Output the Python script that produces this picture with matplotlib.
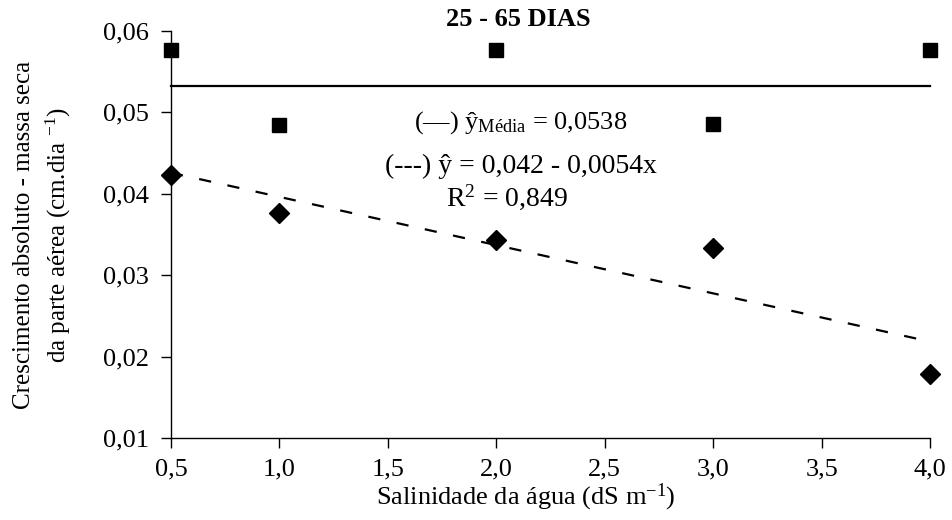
import numpy as np
import matplotlib
matplotlib.use("Agg")
import matplotlib.pyplot as plt

plt.rcParams['font.family'] = ['Liberation Serif', 'DejaVu Serif']
plt.rcParams['mathtext.fontset'] = 'custom'
plt.rcParams['mathtext.rm'] = 'Liberation Serif'
plt.rcParams['mathtext.it'] = 'Liberation Serif:italic'
plt.rcParams['mathtext.bf'] = 'Liberation Serif:bold'

# Data
salinity = [0.5, 1.0, 2.0, 3.0, 4.0]
squares = [0.0577, 0.0485, 0.0577, 0.0486, 0.0577]
diamonds = [0.0423, 0.0377, 0.0343, 0.0333, 0.0179]
mean_line = 0.0532
xticks = [0.5, 1.0, 1.5, 2.0, 2.5, 3.0, 3.5, 4.0]
xtick_labels = ['0,5', '1,0', '1,5', '2,0', '2,5', '3,0', '3,5', '4,0']
yticks = [0.01, 0.02, 0.03, 0.04, 0.05, 0.06]
ytick_labels = ['0,01', '0,02', '0,03', '0,04', '0,05', '0,06']

fig = plt.figure(figsize=(9.52, 5.2), dpi=100)
ax = fig.add_axes([0.1796, 0.1577, 0.977 - 0.1796, 0.9404 - 0.1577])

# regression line fitted to diamonds
coef = np.polyfit(salinity, diamonds, 1)
xs = np.array([salinity[0], salinity[-1]])
line, = ax.plot(xs, np.polyval(coef, xs), color='black', lw=1.6, clip_on=False)
line.set_dashes([5.5, 7.5])
ax.plot(xs, [mean_line, mean_line], color='black', lw=1.6, clip_on=False)

ax.plot(salinity, squares, linestyle='none', marker='s', ms=10.5, color='black', clip_on=False, zorder=5)
ax.plot(salinity, diamonds, linestyle='none', marker='D', ms=9.8, color='black', clip_on=False, zorder=5)

ax.set_xlim(0.5, 4.0)
ax.set_ylim(0.01, 0.06)
ax.set_xticks(xticks)
ax.set_xticklabels(xtick_labels)
ax.set_yticks(yticks)
ax.set_yticklabels(ytick_labels)
ax.tick_params(axis='both', labelsize=19, length=7, width=1, direction='out', colors='black')
ax.tick_params(axis='x', pad=8)
ax.tick_params(axis='y', pad=9)
for s in ['top', 'right']:
    ax.spines[s].set_visible(False)
for s in ['left', 'bottom']:
    ax.spines[s].set_linewidth(1)

fig.text(526 / 952, 1 - 497 / 520, 'Salinidade da água (dS m$^{-1}$)', fontsize=19,
         ha='center', va='center')
fig.text(43 / 952, 1 - 235 / 520, 'Crescimento absoluto - massa seca\nda parte aérea (cm.dia $^{-1}$)',
         fontsize=18, rotation=90, ha='center', va='center', multialignment='center',
         linespacing=1.4)

fig.text(518 / 952, 1 - 19 / 520, '25 - 65 DIAS', fontsize=19, fontweight='bold',
         ha='center', va='center')

ax.text(0.46, 0.774, '(—) ŷ$_{\\mathrm{Média}}$ = 0,0538', transform=ax.transAxes,
        fontsize=19, ha='center', va='center')
ax.text(0.461, 0.668, '(---) ŷ = 0,042 - 0,0054x', transform=ax.transAxes,
        fontsize=20, ha='center', va='center')
ax.text(0.443, 0.592, 'R$^{2}$ = 0,849', transform=ax.transAxes,
        fontsize=20, ha='center', va='center')

fig.savefig('out.png', dpi=100, facecolor='white')
